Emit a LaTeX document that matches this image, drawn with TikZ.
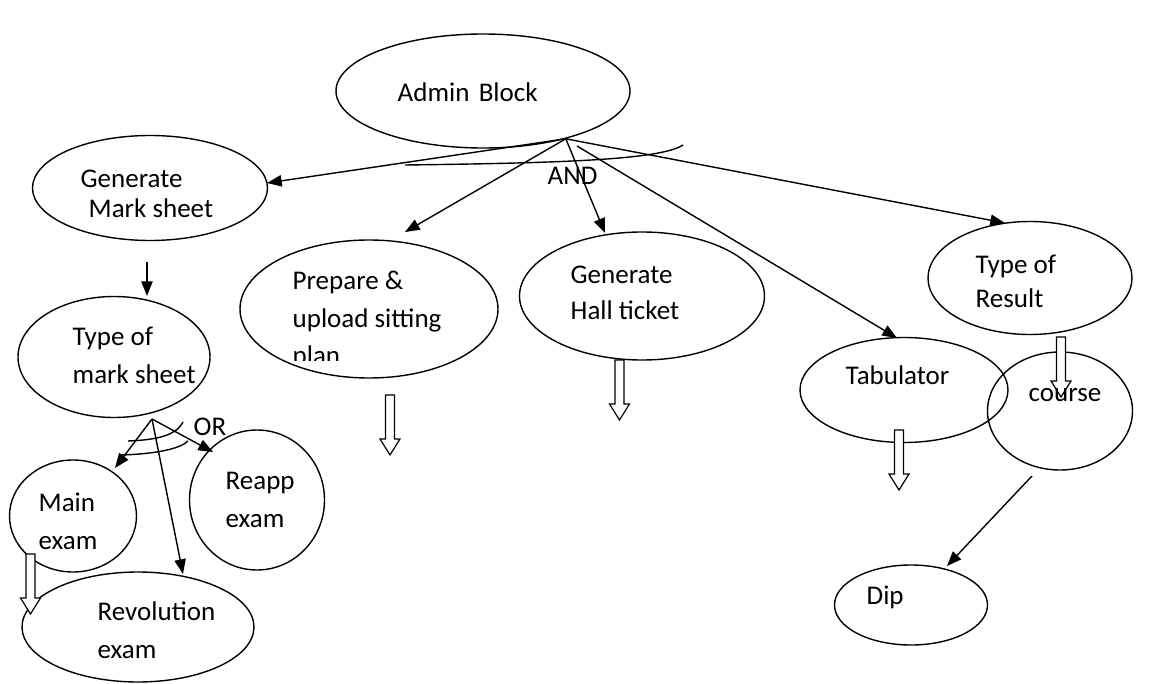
\documentclass[tikz,border=0pt]{standalone}
\usepackage{fontspec}
\setmainfont{Carlito}
\usetikzlibrary{shapes.geometric,arrows.meta}
\begin{document}
\begin{tikzpicture}[x=0.75pt,y=-0.75pt,line width=1.05pt,
  bubble/.style args={#1/#2}{ellipse,draw,minimum width=#1*0.75pt,minimum height=#2*0.75pt,inner sep=0pt},
  lbl/.style={anchor=base west,inner sep=0pt,font=\fontsize{20.25}{24}\selectfont},
  arr/.style={-{Triangle[length=11pt,width=8.5pt]}},
  blockarrow/.pic={\draw[fill=white,line width=0.9pt] (-4.5,0) -- (4.5,0) -- (4.5,44) -- (10,44) -- (0,60) -- (-10,44) -- (-4.5,44) -- cycle;}]
\fill[white] (0,0) rectangle (1149,684);
\useasboundingbox (0,0) rectangle (1149,684);

% processes
\node[bubble=294/114] (admin)  at (483,91)   {};
\node[bubble=235/105] (gms)    at (150,188)  {};
\node[bubble=192/121] (tms)    at (114,357)  {};
\node[bubble=258/138] (prep)   at (369,309)  {};
\node[bubble=245/128] (hall)   at (642,296)  {};
\node[bubble=204/113] (res)    at (1030,278) {};
\node[bubble=208/105] (tab)    at (904,390)  {};
\node[bubble=145/118] (course) at (1060,411) {};
\node[bubble=127/112] (main)   at (73,516)   {};
\node[bubble=135/140] (reapp)  at (257,500)  {};
\node[bubble=232/110] (revo)   at (138,627)  {};
\node[bubble=153/80]  (dip)    at (911,605)  {};

% connector ends
\coordinate (hub)      at (admin.-30);
\coordinate (tabstart) at (577,146);
\coordinate (tipGms)   at (267,183);
\coordinate (tipPrep)  at (405,232);
\coordinate (tipHall)  at (605,233);
\coordinate (tipTab)   at (897,338);
\coordinate (tipRes)   at (1005,223);
\coordinate (gmsout)   at (147,262);
\coordinate (tipTms)   at (147,296);
\coordinate (orhub)    at (152,419);
\coordinate (tipMain)  at (115,468);
\coordinate (tipReapp) at (213,452);
\coordinate (tipRevo)  at (183,574);
\coordinate (courseout) at (1032,476);
\coordinate (tipDip)   at (947,566);

% admin block fan-out
\draw[arr] (hub) -- (tipGms);
\draw[arr] (hub) -- (tipPrep);
\draw[arr] (hub) -- (tipHall);
\draw[arr] (tabstart) -- (tipTab);
\draw[arr] (hub) -- (tipRes);
\draw (405,165) .. controls (560,163) and (660,160) .. (683,145);

% mark sheet branch
\draw[arr] (gmsout) -- (tipTms);
\draw[arr] (orhub) -- (tipMain);
\draw[arr] (orhub) -- (tipReapp);
\draw[arr] (orhub) -- (tipRevo);
\draw (128,441) .. controls (155,440) and (176,436) .. (183,422);
\draw (121,455) .. controls (155,454) and (180,449) .. (188,441);

% course to diploma
\draw[arr] (courseout) -- (tipDip);

% continuation arrows
\pic (ha1) at (30.5,554) {blockarrow};
\pic (ha2) at (390,395)  {blockarrow};
\pic (ha3) at (619.5,360) {blockarrow};
\pic (ha4) at (899,430)  {blockarrow};
\pic (ha5) at (1061,337) {blockarrow};

% labels
\node[lbl] (t1)  at (397,102) {Admin\hspace{0.12em} Block};
\node[lbl] (t2)  at (80,188)  {Generate};
\node[lbl] (t3)  at (88,218)  {Mark sheet};
\node[lbl] (t4)  at (72,345)  {Type of};
\node[lbl] (t5)  at (72,383)  {mark sheet};
\node[lbl] (t6)  at (292,290) {Prepare \&};
\node[lbl] (t7)  at (292,327) {upload sitting};
\begin{scope}
  \clip (230,300) rectangle (510,360);
  \node[lbl] (t8) at (292,364) {plan};
\end{scope}
\node[lbl] (t9)  at (570,284) {Generate};
\node[lbl] (t10) at (570,320) {Hall ticket};
\node[lbl] (t11) at (975,273) {Type of};
\node[lbl] (t12) at (975,307) {Result};
\node[lbl] (t13) at (845,384) {Tabulator};
\node[lbl] (t14) at (1028,401) {course};
\node[lbl] (t15) at (38,511)  {Main};
\node[lbl] (t16) at (38,549)  {exam};
\node[lbl] (t17) at (225,489) {Reapp};
\node[lbl] (t18) at (225,527) {exam};
\node[lbl] (t19) at (97,620)  {Revolution};
\node[lbl] (t20) at (97,658)  {exam};
\node[lbl] (t21) at (866,604) {Dip};
\node[lbl] (t22) at (547,185) {AND};
\node[lbl] (t23) at (193,435) {OR};
\end{tikzpicture}
\end{document}
